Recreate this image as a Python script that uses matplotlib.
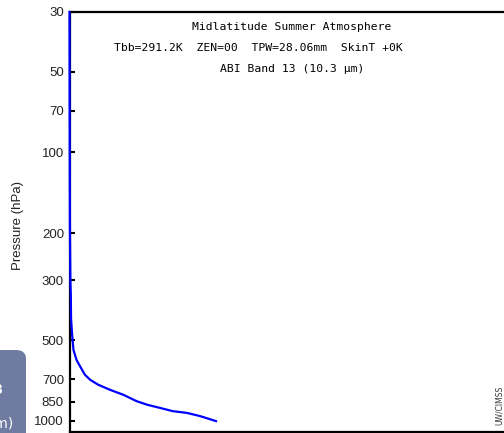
import matplotlib.pyplot as plt
from matplotlib.patches import FancyBboxPatch

# weighting function profile (ABI band 13)
pressure = [30, 100, 200, 300, 340, 415, 479, 544, 593, 618, 673, 703, 733,
            766, 799, 845, 870, 895, 920, 934, 960, 1002]
weight = [0.0, 0.0005, 0.001, 0.002, 0.003, 0.0035, 0.006, 0.009, 0.016,
          0.022, 0.035, 0.047, 0.065, 0.092, 0.122, 0.153, 0.176, 0.206,
          0.235, 0.267, 0.297, 0.333]

yticks = [30, 50, 70, 100, 200, 300, 500, 700, 850, 1000]
title_lines = ["Midlatitude Summer Atmosphere",
               "Tbb=291.2K  ZEN=00  TPW=28.06mm  SkinT +0K",
               "ABI Band 13 (10.3 \u00b5m)"]

W, H = 504, 433
fig = plt.figure(figsize=(W / 100, H / 100), dpi=100)
ax = fig.add_axes([69.5 / W, 1 / H, 440 / W, 420 / H])

ax.plot(weight, pressure, color='#0000ff', lw=1.6, clip_on=False, zorder=3)
ax.set_yscale('log')
ax.set_ylim(1100, 30)
ax.set_xlim(0, 1)
ax.set_yticks(yticks)
ax.set_yticklabels([str(t) for t in yticks], family='Liberation Sans', fontsize=9.5, color='#222222')
ax.minorticks_off()
ax.tick_params(axis='y', direction='in', length=3.5, width=1.5, pad=4, left=True)
ax.set_xticks([])
ax.spines['right'].set_visible(False)
for s in ['left', 'top', 'bottom']:
    ax.spines[s].set_linewidth(1.6)
fig.text(18 / W, 1 - 225 / H, 'Pressure (hPa)', family='Liberation Sans', fontsize=9.5,
         color='#222222', rotation=90, ha='center', va='center')

# title lines (monospace, like the original)
fig.text(292 / W, 1 - 27 / H, title_lines[0], family='DejaVu Sans Mono', fontsize=8.2, ha='center', va='center')
fig.text(258 / W, 1 - 48 / H, title_lines[1], family='DejaVu Sans Mono', fontsize=8.2, ha='center', va='center')
fig.text(292 / W, 1 - 69 / H, title_lines[2], family='DejaVu Sans Mono', fontsize=8.2, ha='center', va='center')

# cut-off label box at lower left
box = FancyBboxPatch((-40 / W, -20 / H), 66 / W, 103 / H, boxstyle='round,pad=0,rounding_size=0.02',
                     transform=fig.transFigure, facecolor='#6f7ba0', edgecolor='none')
fig.patches.append(box)
fig.text(3 / W, 1 - 390 / H, 'Band 13', color='white', fontsize=10, fontweight='bold', ha='right', va='center')
fig.text(13 / W, 1 - 424 / H, '(10.3 \u00b5m)', color='white', fontsize=10, ha='right', va='center')

fig.text(499 / W, 1 - 405 / H, 'UW/CIMSS', rotation=90, fontsize=5.5, color='#333333', ha='center', va='center')

fig.savefig('out.png', dpi=100)
